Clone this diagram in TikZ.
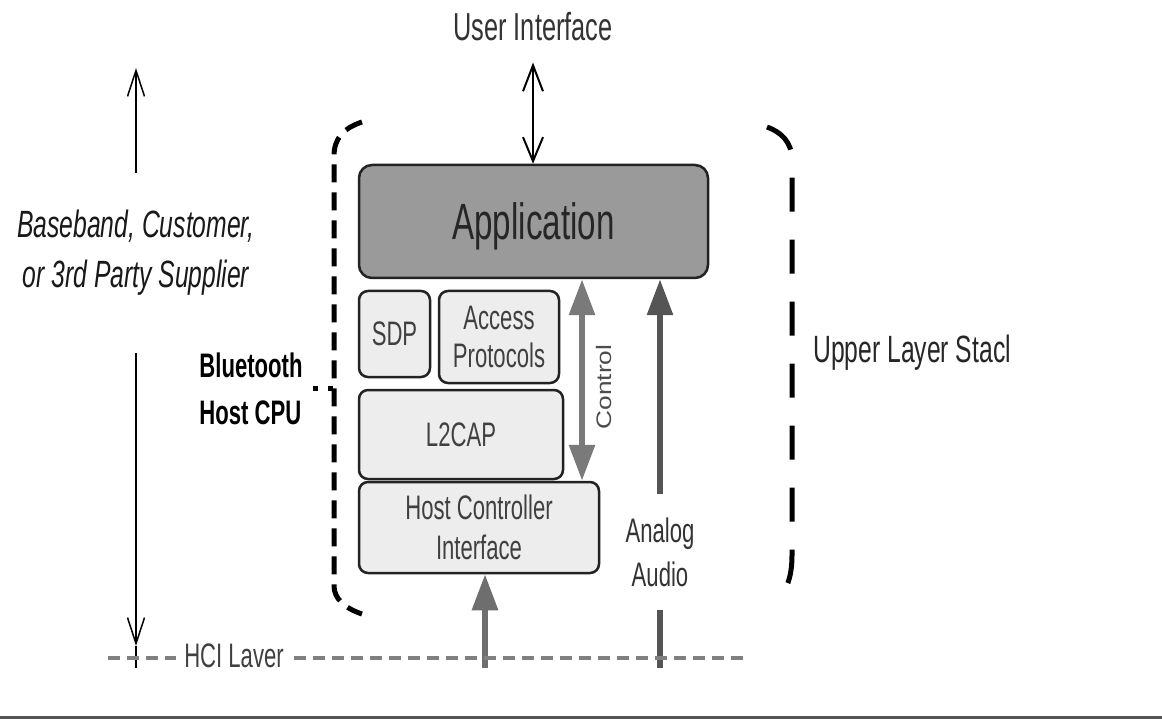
\documentclass[tikz,border=0pt]{standalone}
\usepackage{fontspec}
\setmainfont{Liberation Sans}
\newfontfamily\narrowsf[FakeStretch=0.65]{Liberation Sans}
\newfontfamily\widesf[FakeStretch=1.25]{Liberation Sans}
\usetikzlibrary{arrows.meta}
\definecolor{appgray}{HTML}{9A9A9A}
\definecolor{boxgray}{HTML}{EDEDED}
\definecolor{edgegray}{HTML}{222222}
\definecolor{ctlgray}{HTML}{7A7A7A}
\definecolor{audiogray}{HTML}{555555}
\definecolor{hcigray}{HTML}{6E6E6E}
\definecolor{laygray}{HTML}{808080}
\begin{document}
\begin{tikzpicture}[x=1pt, y=-1pt,
    >={Triangle[length=36pt,width=25pt]},
    stackbox/.style={draw=edgegray, line width=2.5pt, rounded corners=9pt, fill=boxgray,
        text=black!75, font=\narrowsf\fontsize{34}{38}\selectfont, align=center,
        text depth=0pt, inner sep=0pt},
    txt/.style={inner sep=2pt, align=center},
    fatarrow/.style={line width=6pt},
    thinarrow/.style={line width=1.5pt, -{Straight Barb[length=26pt,width=17pt]}},
    uiarrow/.style={line width=2pt,
        {Straight Barb[length=26pt,width=20pt]}-{Straight Barb[length=24pt,width=20pt]}},
    dashbrace/.style={line width=5pt, dash pattern=on 18pt off 10pt},
    hciline/.style={laygray, line width=4pt, dash pattern=on 12pt off 7pt}]
    \useasboundingbox (0,0) rectangle (1162,719);
    \fill[white] (0,0) rectangle (1162,719);

    % the stack
    \node[stackbox, fill=appgray, rounded corners=13pt, minimum width=349pt, minimum height=113pt,
        font=\narrowsf\fontsize{51}{60}\selectfont, text=black!85] (App) at (533.5,221.5) {Application};
    \node[stackbox, minimum width=71pt, minimum height=86pt] (SDP) at (394.5,334) {SDP};
    \node[stackbox, minimum width=120pt, minimum height=92pt] (AP) at (499,337) {Access\\Protocols};
    \node[stackbox, minimum width=204pt, minimum height=89pt] (L2) at (461,434.5) {L2CAP};
    \node[stackbox, minimum width=240pt, minimum height=91pt,
        font=\narrowsf\fontsize{34}{40}\selectfont] (HCI) at (479,527.5) {Host Controller\\Interface};

    % labels
    \node[txt, font=\narrowsf\fontsize{39}{44}\selectfont, text=black!80] (UI) at (533,27) {User Interface};
    \node[txt, font=\narrowsf\itshape\fontsize{38}{50}\selectfont, text=black!90] (BB) at (136,253) {Baseband, Customer,\\or 3rd Party Supplier};
    \node[txt, font=\narrowsf\bfseries\fontsize{34}{47}\selectfont, align=left] (BT) at (251,389) {Bluetooth\\Host CPU};
    \node[txt, font=\narrowsf\fontsize{38}{44}\selectfont, text=black!85, anchor=west] (ULS) at (811,353) {Upper Layer Stacl};
    \node[txt, font=\narrowsf\fontsize{34}{44}\selectfont, text=black!80, inner ysep=23pt] (AA) at (660,552) {Analog\\Audio};
    \node[txt, font=\widesf\fontsize{21}{24}\selectfont, text=black!70, rotate=90] (Ctl) at (604,387) {Control};
    \node[txt, font=\narrowsf\fontsize{34}{40}\selectfont, text=black!75] (HL) at (234,656) {HCI Laver};

    \coordinate (bbTop) at (136,68);
    \coordinate (bbBot) at (136,646);
    \coordinate (bbEnd) at (136,668);
    \coordinate (hlL) at (108,658);
    \coordinate (hlR) at (745,658);
    \coordinate (aaBot) at (660,668);
    \coordinate (hciBot) at (485,668);
    \coordinate (brk) at (334,388);

    % arrows
    \draw[uiarrow, shorten <=19pt] (UI) -- (UI |- App.north);
    \draw[thinarrow, shorten <=35pt] (BB) -- (bbTop);
    \draw[thinarrow, shorten <=55pt] (BB) -- (bbBot);
    \draw[line width=1.5pt] (bbBot) -- (bbEnd);
    \draw[fatarrow, ctlgray, <->] ([xshift=48.5pt]App.south) -- ([xshift=103pt]HCI.north);
    \draw[fatarrow, audiogray] (aaBot) -- (AA);
    \draw[fatarrow, audiogray, ->] (AA) -- (AA |- App.south);
    \draw[fatarrow, hcigray, ->] (hciBot) -- (hciBot |- HCI.south);

    % HCI layer
    \draw[hciline, shorten >=6pt] (hlL) -- (hlL -| HL.west);
    \draw[hciline, shorten <=8pt] (HL.east |- hlR) -- (hlR);

    % brackets
    \draw[dashbrace] (362,122) .. controls (344,128) and (334,138) .. (334,156)
        -- (334,586) .. controls (334,598) and (344,608) .. (362,614);
    \draw[dashbrace, dash pattern=on 34pt off 28pt] (767,127) .. controls (781,132) and (792,142) .. (792,160)
        -- (792,555) .. controls (792,572) and (789,584) .. (782,595);
    \draw[line width=5pt, dash pattern=on 5pt off 10pt, shorten <=8pt] (BT.east |- brk) -- (brk);

    \draw[line width=3pt, audiogray] (0,717) -- (1162,717);
\end{tikzpicture}
\end{document}
